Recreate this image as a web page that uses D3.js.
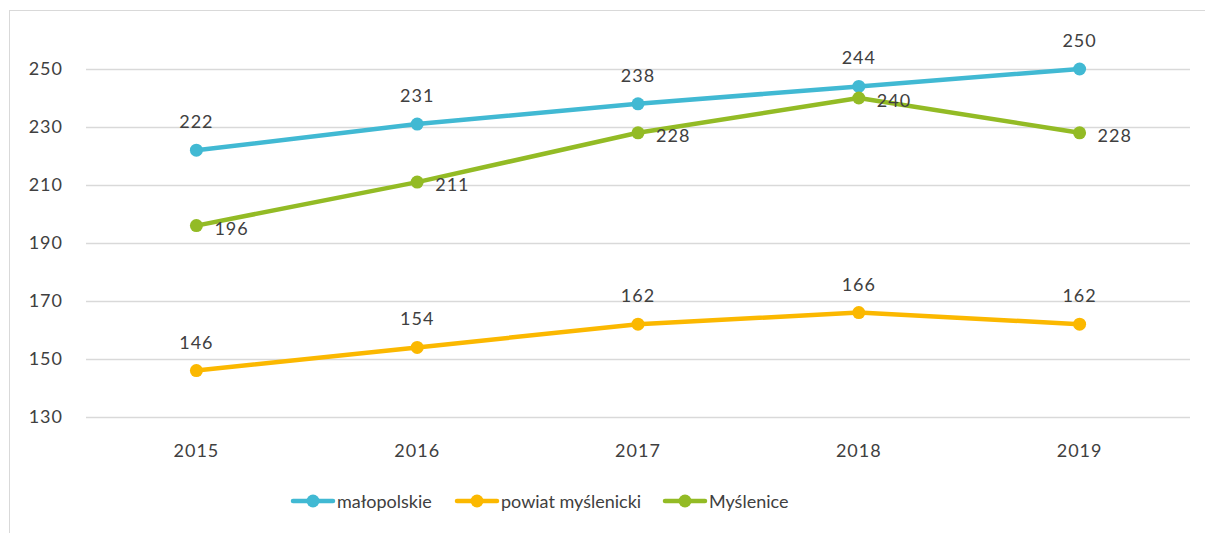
<!DOCTYPE html>
<html>
<head>
<meta charset="utf-8">
<script src="https://cdn.jsdelivr.net/npm/d3@7"></script>
<style>
  body { margin: 0; background: #fff; }
  svg text { font-family: "Lato", "Open Sans", sans-serif; fill: #404040; }
</style>
</head>
<body>
<div id="container"></div>
<script>
// data
var years = ["2015", "2016", "2017", "2018", "2019"];
var malopolskie = [222, 231, 238, 244, 250];
var powiat = [146, 154, 162, 166, 162];
var myslenice = [196, 211, 228, 240, 228];
var yTicks = [130, 150, 170, 190, 210, 230, 250];

var series = [
  {name: "małopolskie", values: malopolskie, color: "#41b9d3", label: "above"},
  {name: "powiat myślenicki", values: powiat, color: "#fbb800", label: "above"},
  {name: "Myślenice", values: myslenice, color: "#93bb25", label: "right"}
];

const width = 1205;
const height = 533;

const svg = d3.select("div#container").append("svg")
    .attr("width", width)
    .attr("height", height);

// chart frame
svg.append("rect")
    .attr("x", 9.5).attr("y", 10.5)
    .attr("width", 1205).attr("height", 540)
    .attr("fill", "none")
    .attr("stroke", "#d9d9d9")
    .attr("stroke-width", 1);

//----------------------------SCALES----------------------------//
const xScale = d3.scaleBand().domain(years).range([86, 1190]);
const yScale = d3.scaleLinear().domain([130, 250]).range([417, 69]);
const xc = function(d) { return xScale(d) + xScale.bandwidth() / 2; };

// grid lines
svg.append("g")
    .selectAll("line")
    .data(yTicks)
    .enter()
    .append("line")
    .attr("x1", 86).attr("x2", 1190)
    .attr("y1", function(d) { return Math.round(yScale(d)) + 0.5; })
    .attr("y2", function(d) { return Math.round(yScale(d)) + 0.5; })
    .attr("stroke", "#d9d9d9")
    .attr("stroke-width", 1.5);

// y axis labels
svg.append("g")
    .selectAll("text")
    .data(yTicks)
    .enter()
    .append("text")
    .attr("x", 63)
    .attr("y", function(d) { return yScale(d) + 6; })
    .attr("text-anchor", "end")
    .attr("font-size", "18px")
    .attr("letter-spacing", "1px")
    .text(function(d) { return d; });

// x axis labels
svg.append("g")
    .selectAll("text")
    .data(years)
    .enter()
    .append("text")
    .attr("x", xc)
    .attr("y", 457)
    .attr("text-anchor", "middle")
    .attr("font-size", "18px")
    .attr("letter-spacing", "1px")
    .text(function(d) { return d; });

//----------------------------LINES-----------------------------//
const line = d3.line()
    .x(function(d, i) { return xc(years[i]); })
    .y(function(d) { return yScale(d); });

series.forEach(function(s) {
  const g = svg.append("g");
  g.append("path")
      .attr("d", line(s.values))
      .attr("fill", "none")
      .attr("stroke", s.color)
      .attr("stroke-width", 4.5)
      .attr("stroke-linejoin", "round");
  g.selectAll("circle")
      .data(s.values)
      .enter()
      .append("circle")
      .attr("cx", function(d, i) { return xc(years[i]); })
      .attr("cy", function(d) { return yScale(d); })
      .attr("r", 6.5)
      .attr("fill", s.color);
  g.selectAll("text")
      .data(s.values)
      .enter()
      .append("text")
      .attr("x", function(d, i) { return xc(years[i]) + (s.label == "right" ? 18 : 0); })
      .attr("y", function(d) { return yScale(d) + (s.label == "right" ? 9 : -22); })
      .attr("text-anchor", s.label == "right" ? "start" : "middle")
      .attr("font-size", "18px")
      .attr("letter-spacing", "1px")
      .text(function(d) { return d; });
});

//---------------------------LEGEND-----------------------------//
const legendX = [293, 457, 665];
series.forEach(function(s, i) {
  const lg = svg.append("g").attr("transform", "translate(" + legendX[i] + ",501)");
  lg.append("line")
      .attr("x1", 0).attr("x2", 40)
      .attr("stroke", s.color)
      .attr("stroke-width", 4.5)
      .attr("stroke-linecap", "round");
  lg.append("circle")
      .attr("cx", 20).attr("r", 6.5)
      .attr("fill", s.color);
  lg.append("text")
      .attr("x", 44).attr("y", 7)
      .attr("font-size", "18px")
      .text(s.name);
});
</script>
</body>
</html>
